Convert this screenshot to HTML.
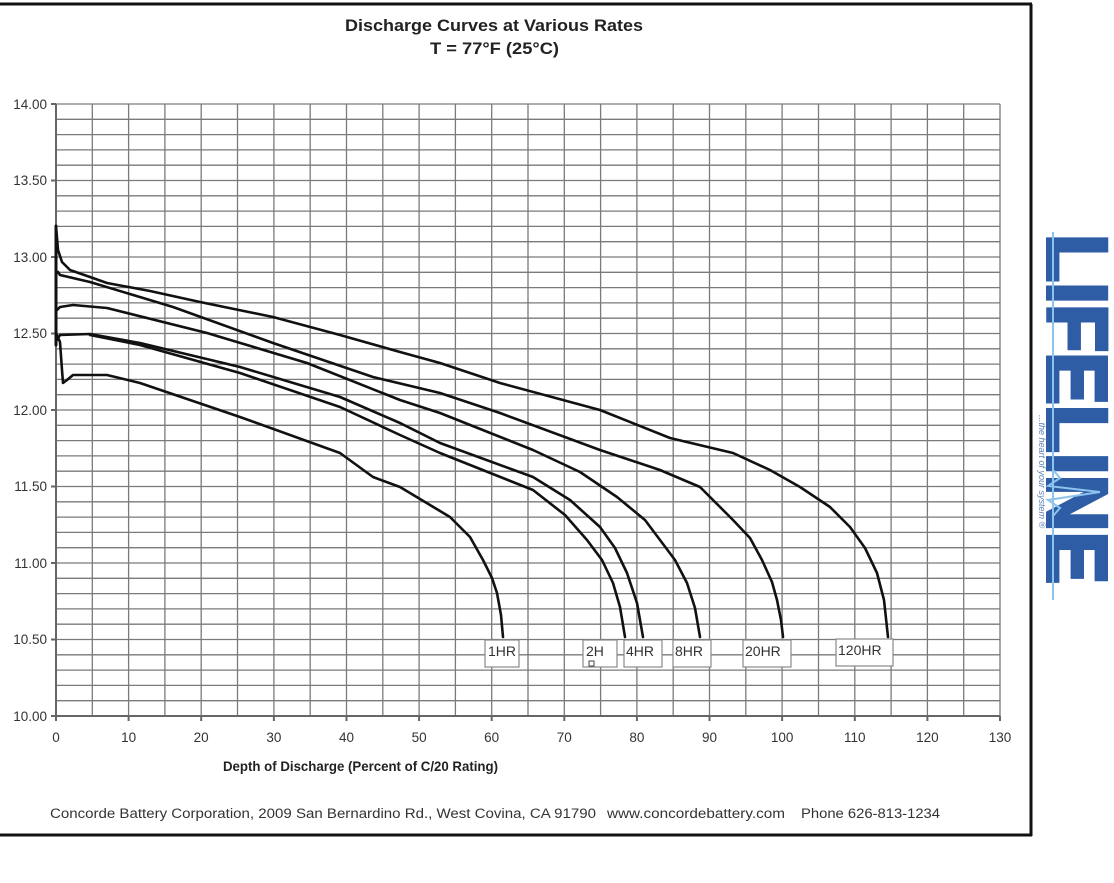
<!DOCTYPE html>
<html><head><meta charset="utf-8"><style>
html,body{margin:0;padding:0;background:#fff;}
svg{display:block;font-family:"Liberation Sans",Arial,sans-serif;}
</style></head><body>
<svg width="1114" height="883" viewBox="0 0 1114 883" xmlns="http://www.w3.org/2000/svg">
<rect width="1114" height="883" fill="#fff"/>
<line x1="0" y1="4" x2="1032" y2="4" stroke="#111" stroke-width="3"/>
<line x1="0" y1="835" x2="1032" y2="835" stroke="#111" stroke-width="3"/>
<line x1="1031" y1="4" x2="1031" y2="836" stroke="#111" stroke-width="3"/>
<text x="345" y="31" font-size="17" font-weight="bold" fill="#222" textLength="298" lengthAdjust="spacingAndGlyphs">Discharge Curves at Various Rates</text>
<text x="430" y="54" font-size="17" font-weight="bold" fill="#222" textLength="129" lengthAdjust="spacingAndGlyphs">T = 77°F (25°C)</text>
<g stroke="#7a7a7a" stroke-width="1.3" fill="none">
<path d="M56 104H1000M56 119.3H1000M56 134.6H1000M56 149.9H1000M56 165.2H1000M56 180.5H1000M56 195.8H1000M56 211.1H1000M56 226.4H1000M56 241.7H1000M56 257H1000M56 272.3H1000M56 287.6H1000M56 302.9H1000M56 318.2H1000M56 333.5H1000M56 348.8H1000M56 364.1H1000M56 379.4H1000M56 394.7H1000M56 410H1000M56 425.3H1000M56 440.6H1000M56 455.9H1000M56 471.2H1000M56 486.5H1000M56 501.8H1000M56 517.1H1000M56 532.4H1000M56 547.7H1000M56 563H1000M56 578.3H1000M56 593.6H1000M56 608.9H1000M56 624.2H1000M56 639.5H1000M56 654.8H1000M56 670.1H1000M56 685.4H1000M56 700.7H1000"/>
<path d="M92.3 104V716M128.6 104V716M164.9 104V716M201.2 104V716M237.5 104V716M273.9 104V716M310.2 104V716M346.5 104V716M382.8 104V716M419.1 104V716M455.4 104V716M491.7 104V716M528 104V716M564.3 104V716M600.6 104V716M636.9 104V716M673.2 104V716M709.5 104V716M745.8 104V716M782.1 104V716M818.5 104V716M854.8 104V716M891.1 104V716M927.4 104V716M963.7 104V716M1000 104V716"/>
</g>
<g stroke="#666" stroke-width="2" fill="none">
<path d="M56 104V716H1000"/>
<path d="M51 104H56M51 180.5H56M51 257H56M51 333.5H56M51 410H56M51 486.5H56M51 563H56M51 639.5H56M51 716H56"/>
<path d="M56 716v5M128.6 716v5M201.2 716v5M273.9 716v5M346.5 716v5M419.1 716v5M491.7 716v5M564.3 716v5M636.9 716v5M709.5 716v5M782.1 716v5M854.8 716v5M927.4 716v5M1000 716v5"/>
</g>
<g font-size="13.5" fill="#333" text-anchor="end">
<text x="47" y="109">14.00</text><text x="47" y="185">13.50</text><text x="47" y="262">13.00</text><text x="47" y="338">12.50</text><text x="47" y="415">12.00</text><text x="47" y="491">11.50</text><text x="47" y="568">11.00</text><text x="47" y="644">10.50</text><text x="47" y="721">10.00</text>
</g>
<g font-size="13.5" fill="#333" text-anchor="middle">
<text x="56" y="742">0</text><text x="128.6" y="742">10</text><text x="201.2" y="742">20</text><text x="273.9" y="742">30</text><text x="346.5" y="742">40</text><text x="419.1" y="742">50</text><text x="491.7" y="742">60</text><text x="564.3" y="742">70</text><text x="636.9" y="742">80</text><text x="709.5" y="742">90</text><text x="782.1" y="742">100</text><text x="854.8" y="742">110</text><text x="927.4" y="742">120</text><text x="1000" y="742">130</text>
</g>
<text x="223" y="771" font-size="14" font-weight="bold" fill="#222" textLength="275" lengthAdjust="spacingAndGlyphs">Depth of Discharge (Percent of C/20 Rating)</text>
<g font-size="13.5" fill="#333">
<text x="50" y="818" textLength="546" lengthAdjust="spacingAndGlyphs">Concorde Battery Corporation, 2009 San Bernardino Rd., West Covina, CA 91790</text>
<text x="607" y="818" textLength="178" lengthAdjust="spacingAndGlyphs">www.concordebattery.com</text>
<text x="801" y="818" textLength="139" lengthAdjust="spacingAndGlyphs">Phone 626-813-1234</text>
</g>
<g stroke="#111" stroke-width="2.6" fill="none" stroke-linejoin="round" stroke-linecap="round">
<path d="M56 226L58 250L62 262L70 270L90 277L107 283L150 291L200 302L273 317L340 335L400 352L440 363L500 383L600 410L670 438L733 453L770 470L800 487L830 507L850 527L865 548L877 573L884 600L888 637"/>
<path d="M58 272L60 275L90 282L173 307L273 343L373 377L440 393L500 413L600 450L660 470L700 487L733 520L750 538L762 560L772 582L777 600L781 620L783 637"/>
<path d="M57 310L60 307L73 305L107 308L207 333L307 363L400 400L440 413L533 450L580 472L617 497L645 520L660 540L675 560L687 583L695 608L700 637"/>
<path d="M57 340L60 335L90 334L140 343L240 367L340 397L400 423L440 443L533 477L570 500L600 527L615 548L627 573L637 603L643 637"/>
<path d="M90 335L140 345L240 373L340 407L400 435L440 453L533 490L565 515L587 540L602 560L613 583L620 607L625 637"/>
<path d="M56 333L60 342L62 370L63 383L67 380L73 375L107 375L140 383L240 417L340 453L373 477L400 487L450 517L470 537L483 560L492 578L497 593L501 615L503 637"/>
<path d="M56 226V345" stroke-width="3"/>
</g>
<g fill="#fff" stroke="#888" stroke-width="1.2">
<rect x="485" y="640" width="34" height="27"/>
<rect x="583" y="640" width="34" height="27"/>
<rect x="624" y="640" width="38" height="27"/>
<rect x="673" y="640" width="38" height="27"/>
<rect x="743" y="640" width="48" height="27"/>
<rect x="836" y="639" width="57" height="27"/>
</g>
<g font-size="14" fill="#333">
<text x="488" y="656">1HR</text><text x="586" y="656">2H</text><text x="626" y="656">4HR</text><text x="675" y="656">8HR</text><text x="745" y="656">20HR</text><text x="838" y="655">120HR</text>
</g>
<rect x="589" y="661" width="5" height="5" fill="#fff" stroke="#444" stroke-width="1"/>
<g transform="translate(1046,234) rotate(90)">
<text x="0" y="-2" font-size="84" font-weight="bold" fill="#2e5da6" stroke="#2e5da6" stroke-width="4" textLength="350" lengthAdjust="spacingAndGlyphs">LIFELINE</text>
</g>
<line x1="1053" y1="232" x2="1053" y2="600" stroke="#8cc4ee" stroke-width="2"/>
<path d="M1053 470 L1060 478 L1048 486 L1100 492 L1048 500 L1060 508 L1053 516" stroke="#8cc4ee" stroke-width="2" fill="none"/>
<g transform="translate(1039,415) rotate(90)"><text font-size="9" fill="#5a7fb5" font-style="italic">...the heart of your system ®</text></g>
</svg>
</body></html>
